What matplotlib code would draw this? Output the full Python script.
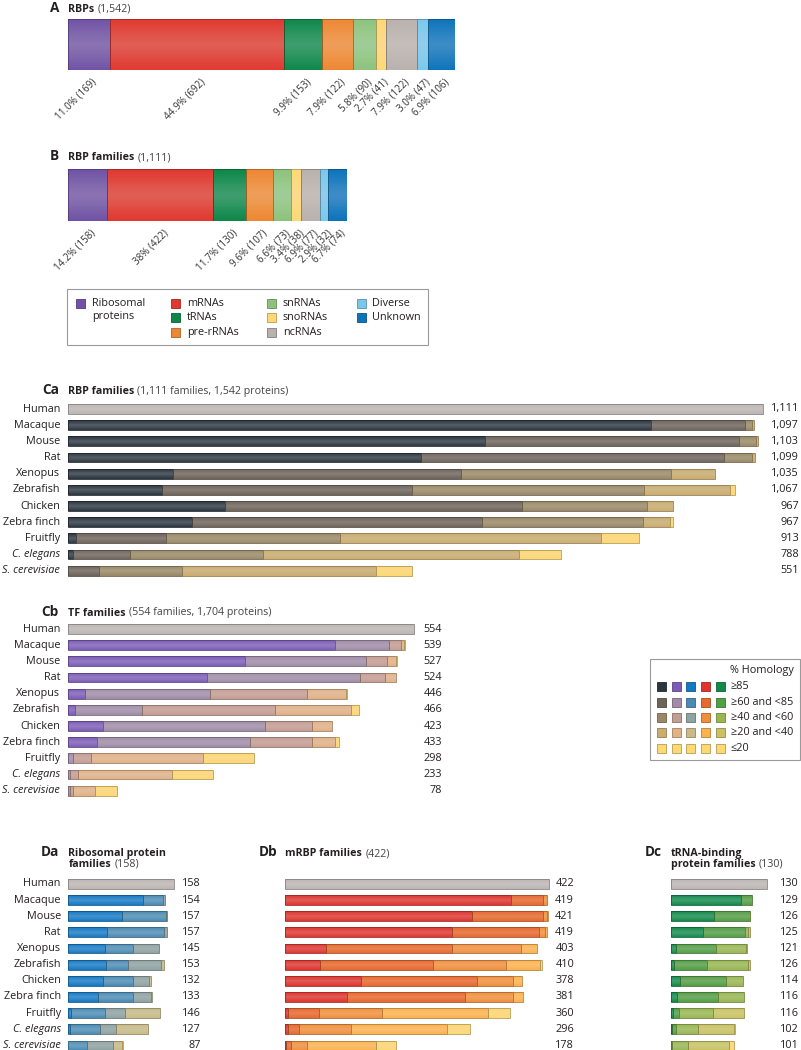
import matplotlib
matplotlib.use('Agg')
import numpy as np
import matplotlib.pyplot as plt
from matplotlib.patches import Rectangle
from matplotlib.transforms import blended_transform_factory as blend
from matplotlib.colors import to_rgb

plt.rcParams['font.family'] = ['Open Sans', 'DejaVu Sans']

# ---------------- data ----------------
categories = ['Ribosomal\nproteins', 'mRNAs', 'tRNAs', 'pre-rRNAs', 'snRNAs',
              'snoRNAs', 'ncRNAs', 'Diverse', 'Unknown']
category_colors = ['#7152a6', '#e0392f', '#0e874a', '#ee8734', '#8cc27e',
                   '#fdd976', '#b8b1ae', '#79c8ec', '#0d74ba']
rbp_counts = [169, 692, 153, 122, 90, 41, 122, 47, 106]
rbp_pct = ['11.0%', '44.9%', '9.9%', '7.9%', '5.8%', '2.7%', '7.9%', '3.0%', '6.9%']
fam_counts = [158, 422, 130, 107, 73, 38, 77, 32, 74]
fam_pct = ['14.2%', '38%', '11.7%', '9.6%', '6.6%', '3.4%', '6.9%', '2.9%', '6.7%']

species = ['Human', 'Macaque', 'Mouse', 'Rat', 'Xenopus', 'Zebrafish', 'Chicken',
           'Zebra finch', 'Fruitfly', 'C. elegans', 'S. cerevisiae']
italic_species = ['C. elegans', 'S. cerevisiae']
homology_levels = ['≥85', '≥60 and <85', '≥40 and <60', '≥20 and <40', '≤20']

# Ca: RBP families (non-human species, per homology level)
ca_ge85 = [933, 667, 565, 169, 150, 252, 198, 14, 8, 0]
ca_ge60 = [149, 406, 484, 460, 400, 474, 464, 143, 91, 50]
ca_ge40 = [11, 27, 44, 335, 371, 200, 257, 278, 213, 133]
ca_ge20 = [4, 3, 6, 71, 137, 41, 44, 417, 409, 309]
ca_le20 = [0, 0, 0, 0, 9, 0, 4, 61, 67, 59]
ca_human = 1111
ca_totals = [1111, 1097, 1103, 1099, 1035, 1067, 967, 967, 913, 788, 551]

# Cb: TF families
cb_ge85 = [428, 284, 222, 28, 12, 57, 47, 1, 0, 0]
cb_ge60 = [85, 192, 245, 199, 106, 258, 244, 8, 4, 4]
cb_ge40 = [19, 34, 40, 156, 213, 75, 100, 29, 12, 4]
cb_ge20 = [5, 15, 17, 62, 121, 33, 36, 178, 150, 36]
cb_le20 = [2, 2, 0, 1, 14, 0, 6, 82, 67, 34]
cb_human = 554
cb_totals = [554, 539, 527, 524, 446, 466, 423, 433, 298, 233, 78]

# Da: ribosomal protein families
da_ge85 = [120, 86, 62, 58, 61, 55, 47, 5, 3, 0]
da_ge60 = [31, 70, 91, 46, 35, 49, 57, 53, 48, 30]
da_ge40 = [3, 1, 4, 41, 52, 25, 28, 33, 25, 42]
da_ge20 = [0, 0, 0, 0, 5, 3, 1, 55, 51, 14]
da_le20 = [0, 0, 0, 0, 0, 0, 0, 0, 0, 1]
da_human = 169
da_totals = [158, 154, 157, 157, 145, 153, 132, 133, 146, 127, 87]

# Db: mRBP families
db_ge85 = [361, 299, 267, 65, 56, 121, 99, 4, 4, 1]
db_ge60 = [51, 113, 139, 202, 181, 186, 188, 51, 19, 8]
db_ge40 = [7, 7, 10, 110, 116, 57, 78, 100, 82, 26]
db_ge20 = [0, 2, 3, 26, 54, 14, 15, 170, 154, 111]
db_le20 = [0, 0, 0, 0, 3, 0, 1, 35, 37, 32]
db_human = 422
db_totals = [422, 419, 421, 419, 403, 410, 378, 381, 360, 296, 178]

# Dc: tRNA-binding protein families
dc_ge85 = [111, 68, 50, 7, 5, 14, 9, 2, 1, 0]
dc_ge60 = [18, 57, 67, 65, 52, 74, 66, 11, 6, 1]
dc_ge40 = [0, 1, 6, 48, 65, 26, 41, 54, 35, 25]
dc_ge20 = [0, 0, 2, 1, 4, 0, 0, 49, 58, 67]
dc_le20 = [0, 0, 0, 0, 0, 0, 0, 0, 2, 8]
dc_human = 153
dc_totals = [130, 129, 126, 125, 121, 126, 114, 116, 116, 102, 101]

pal_dark = ['#2c3640', '#6e6559', '#9b8767', '#cdac6f', '#fcd972']
pal_purple = ['#7b5cb6', '#a28aa8', '#c29e92', '#e2b185', '#fcd972']
pal_blue = ['#1479c2', '#4a8ab4', '#8ea3a3', '#cbb987', '#fcd972']
pal_red = ['#e0352f', '#e8692c', '#f08e3c', '#fbb24c', '#fcd972']
pal_green = ['#11894a', '#52a044', '#9bb650', '#cbc162', '#fcd972']
HUMAN_GRAY = '#bbb5b4'

# ---------------- figure ----------------
FW, FH = 801, 1050
fig = plt.figure(figsize=(FW / 100, FH / 100), dpi=100)
ov = fig.add_axes([0, 0, 1, 1])
ov.set_xlim(0, FW); ov.set_ylim(FH, 0); ov.axis('off'); ov.set_zorder(5)
ov.patch.set_visible(False)

TXT = '#231f20'
FS = 7.8


def px_axes(x, y, w, h):
    return fig.add_axes([x / FW, 1 - (y + h) / FH, w / FW, h / FH])


def darker(c, f=0.72):
    return tuple(np.array(to_rgb(c)) * f)


def shaded_barh(ax, y, width, left, height, color):
    ax.barh(y, width, left=left, height=height, color=color, linewidth=0, zorder=2)
    for f in np.linspace(0.95, 0.1, 12):
        ax.barh(y, width, left=left, height=height * f, color='white', alpha=0.019,
                linewidth=0, zorder=3)
    ax.barh(y, width, left=left, height=height, fill=False,
            edgecolor=darker(color), linewidth=0.6, zorder=4)


def title(letter, x_letter, x_text, y, bold, regular, bold2=None, y2=None, regular2=None):
    ov.text(x_letter, y, letter, ha='right', va='baseline', fontsize=9.8,
            fontweight='bold', color=TXT)
    t = ov.text(x_text, y, bold, ha='left', va='baseline', fontsize=7.7,
                fontweight='bold', color=TXT)
    if regular:
        ov.annotate(regular, xy=(1, 0), xycoords=t, xytext=(2.5, 0),
                    textcoords='offset points', ha='left', va='bottom',
                    fontsize=7.7, color='#444444')
    if bold2:
        t2 = ov.text(x_text, y2, bold2, ha='left', va='baseline', fontsize=7.7,
                     fontweight='bold', color=TXT)
        ov.annotate(regular2, xy=(1, 0), xycoords=t2, xytext=(2.5, 0),
                    textcoords='offset points', ha='left', va='bottom',
                    fontsize=7.7, color='#444444')


def composition_bar(x, y, h, counts, pcts, scale):
    total = sum(counts)
    ax = px_axes(x, y, total * scale, h)
    ax.set_xlim(0, total); ax.set_ylim(0, 1); ax.axis('off')
    lefts = np.concatenate([[0], np.cumsum(counts)[:-1]])
    for l, v, c in zip(lefts, counts, category_colors):
        shaded_barh(ax, 0.5, v, l, 1.0, c)
    for l, v, p in zip(lefts, counts, pcts):
        ax.annotate(f'{p} ({v})', xy=(l + v / 2, 0), xycoords=('data', 'axes fraction'),
                    xytext=(1.8, -5.0), textcoords='offset points', rotation=45,
                    rotation_mode='anchor', ha='right', va='top', fontsize=7.1,
                    color='#333333', annotation_clip=False)
    return ax


S = 0.6257  # px per family unit in panels C and D


def homology_panel(left, first_y, pitch, ax_w, human_len, cols, palette, totals,
                   value_x, show_species=True):
    n = len(species)
    ax = px_axes(left, first_y - pitch / 2, ax_w, pitch * n)
    ax.set_xlim(0, ax_w / S); ax.set_ylim(n - 0.5, -0.5); ax.axis('off')
    bh = 9.8 / pitch
    shaded_barh(ax, 0, human_len, 0, bh, HUMAN_GRAY)
    segs = np.array(cols, dtype=float)
    rows = np.arange(1, n)
    lefts = np.zeros(n - 1)
    for k in range(5):
        m = segs[k] > 0
        shaded_barh(ax, rows[m], segs[k][m], lefts[m], bh, palette[k])
        lefts += segs[k]
    tr = blend(ov.transData, ax.transData)
    for i, name in enumerate(species):
        if show_species:
            ax.text(left - 7.5, i, name, transform=tr, ha='right', va='center',
                    fontsize=FS, color=TXT,
                    style='italic' if name in italic_species else 'normal')
        ax.text(value_x, i, f'{totals[i]:,}', transform=tr, ha='right', va='center',
                fontsize=FS, color=TXT)
    return ax


# ---- Panel A / B ----
title('A', 59, 67.7, 11.5, 'RBPs', '(1,542)')
composition_bar(67.7, 19, 51, rbp_counts, rbp_pct, 0.2512)
title('B', 59, 67.7, 160.3, 'RBP families', '(1,111)')
composition_bar(67.7, 169.3, 51.4, fam_counts, fam_pct, 0.2512)

# ---- category legend ----
ov.add_patch(Rectangle((66.7, 289.3), 361.6, 55.7, fill=False, edgecolor='#9a9a9a', lw=0.8))
legend_cols = [[0], [1, 2, 3], [4, 5, 6], [7, 8]]
col_x = [76, 171, 267.3, 356.7]
row_y = [303.3, 317.8, 332.3]
for cx, idxs in zip(col_x, legend_cols):
    for r, ci in enumerate(idxs):
        ov.add_patch(Rectangle((cx, row_y[r] - 4.5), 9, 9, facecolor=category_colors[ci],
                               edgecolor=darker(category_colors[ci]), lw=0.6))
        ov.text(cx + 15.7, row_y[r] - 5.5 if '\n' in categories[ci] else row_y[r],
                categories[ci], ha='left',
                va='top' if '\n' in categories[ci] else 'center',
                fontsize=7.8, color=TXT, linespacing=1.25)

# ---- Panel Ca ----
title('Ca', 59, 67.7, 394, 'RBP families', '(1,111 families, 1,542 proteins)')
homology_panel(67.7, 409, 16.17, 700, ca_human,
               [ca_ge85, ca_ge60, ca_ge40, ca_ge20, ca_le20], pal_dark, ca_totals, 799)

# ---- Panel Cb ----
title('Cb', 59, 67.7, 615.5, 'TF families', '(554 families, 1,704 proteins)')
homology_panel(67.7, 629, 16.17, 380, cb_human,
               [cb_ge85, cb_ge60, cb_ge40, cb_ge20, cb_le20], pal_purple, cb_totals, 442)

# ---- homology legend ----
ov.add_patch(Rectangle((650, 659.3), 149.5, 100.7, fill=False, edgecolor='#9a9a9a', lw=0.8))
ov.text(794, 670, '% Homology', ha='right', va='center', fontsize=7.8, color=TXT)
palettes = [pal_dark, pal_purple, pal_blue, pal_red, pal_green]
for j, pal in enumerate(palettes):
    for k in range(5):
        yy = 686.7 + k * 15.4
        ov.add_patch(Rectangle((656.7 + j * 14.8, yy - 4.5), 9, 9, facecolor=pal[k],
                               edgecolor=darker(pal[k]), lw=0.6))
for k, lab in enumerate(homology_levels):
    ov.text(730.7, 686.7 + k * 15.4, lab, ha='left', va='center', fontsize=7.8, color=TXT)

# ---- Panels D ----
title('Da', 59.3, 68.3, 856, 'Ribosomal protein', None, 'families', 867, '(158)')
homology_panel(68.3, 883.9, 16.15, 120, da_human,
               [da_ge85, da_ge60, da_ge40, da_ge20, da_le20], pal_blue, da_totals, 201)

title('Db', 277, 285, 856, 'mRBP families', '(422)')
homology_panel(285, 883.9, 16.15, 270, db_human,
               [db_ge85, db_ge60, db_ge40, db_ge20, db_le20], pal_red, db_totals, 574,
               show_species=False)

title('Dc', 661.7, 671, 856, 'tRNA-binding', None, 'protein families', 867, '(130)')
homology_panel(671.3, 883.9, 16.15, 100, dc_human,
               [dc_ge85, dc_ge60, dc_ge40, dc_ge20, dc_le20], pal_green, dc_totals, 799,
               show_species=False)

fig.savefig('out.png', dpi=100, facecolor='white')
